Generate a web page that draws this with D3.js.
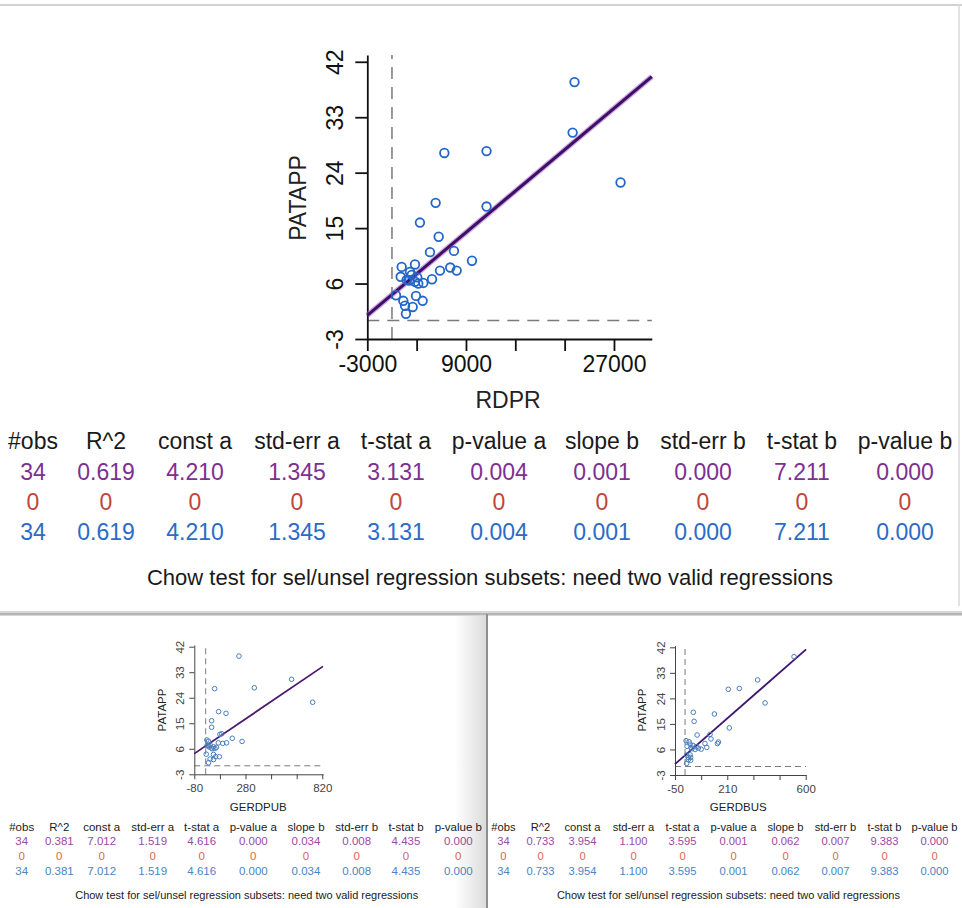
<!DOCTYPE html>
<html>
<head>
<meta charset="utf-8">
<script src="https://cdn.jsdelivr.net/npm/d3@7"></script>
<style>
    body { margin: 0; background: #fff; }
    svg text { font-family: "Liberation Sans", Arial, Helvetica, sans-serif; }
</style>
</head>
<body>
<div id="chart"></div>
<script>
const patapp = [38.7, 30.5, 27.5, 27.2, 22.4, 19.1, 18.5, 15.9, 13.6, 11.3, 11.1, 9.7, 9.1, 8.7, 8.6, 8.1, 8.1,
    7.9, 7.4, 7.1, 7.0, 6.7, 6.6, 6.5, 6.3, 6.1, 6.0, 4.1, 4.0, 3.2, 3.2, 2.4, 2.2, 1.1];
const rdpr = [22200, 21970, 11500, 6370, 27800, 5310, 11500, 3400, 5680, 7540, 4620, 9730, 2800, 1180, 7090, 7870, 5840,
    2190, 2400, 1060, 3080, 4870, 1780, 2100, 2800, 3810, 3200, 490, 2920, 1380, 3730, 1590, 2520, 1700];
const gerdpub = [234, 604, 342, 63, 752, 91, 143, 42, 42, 113, 100, 187, 8, 20, 256, 147, 89,
    120, 30, 10, 20, 55, 25, 75, 40, 65, 45, 4, 55, 96, 70, 31, 55, 20];
const gerdbus = [542, 361, 270, 215, 398, 41, 146, 45, 220, 124, 60, 129, 5, 20, 166, 99, 161,
    25, 40, 10, 55, 108, 30, 66, 35, 80, 50, 25, 8, 16, 28, 16, 28, 8];

// regression fits [const a, slope b]
const rdprFit = [4.210, 0.00112];
const gerdpubFit = [7.012, 0.034];
const gerdbusFit = [3.954, 0.062];

// ticks
const patappTicks = [-3, 6, 15, 24, 33, 42];
const rdprTicks = [-3000, 3000, 9000, 15000, 21000, 27000];
const rdprLabels = [-3000, 9000, 27000];
const gerdpubTicks = [-80, 100, 280, 460, 640, 820];
const gerdpubLabels = [-80, 280, 820];
const gerdbusTicks = [-50, 80, 210, 340, 470, 600];
const gerdbusLabels = [-50, 210, 600];

// stats tables
const statHeaders = ["#obs", "R^2", "const a", "std-err a", "t-stat a", "p-value a", "slope b", "std-err b", "t-stat b", "p-value b"];
const rdprStats = ["34", "0.619", "4.210", "1.345", "3.131", "0.004", "0.001", "0.000", "7.211", "0.000"];
const gerdpubStats = ["34", "0.381", "7.012", "1.519", "4.616", "0.000", "0.034", "0.008", "4.435", "0.000"];
const gerdbusStats = ["34", "0.733", "3.954", "1.100", "3.595", "0.001", "0.062", "0.007", "9.383", "0.000"];
const unselStats = ["0", "0", "0", "0", "0", "0", "0", "0", "0", "0"];
const chowNote = "Chow test for sel/unsel regression subsets: need two valid regressions";


class RegressionPanel {
    constructor(svg, cfg) {
        this.svg = svg;
        this.cfg = cfg;
        this.initVis();
    }

    initVis() {
        let vis = this;
        let c = vis.cfg;

        vis.g = vis.svg.append("g");

        vis.x = d3.scaleLinear().domain(c.xDomain).range(c.xRange);
        vis.y = d3.scaleLinear().domain(c.yDomain).range(c.yRange);

        // dashed zero lines
        vis.g.append("line")
            .attr("x1", vis.x(0)).attr("x2", vis.x(0))
            .attr("y1", c.yRange[0]).attr("y2", c.yRange[1])
            .attr("stroke", "#7a7a7a").attr("stroke-width", c.dashWidth)
            .attr("stroke-dasharray", c.dash);
        vis.g.append("line")
            .attr("x1", c.xRange[0]).attr("x2", c.xRange[1])
            .attr("y1", vis.y(0)).attr("y2", vis.y(0))
            .attr("stroke", "#7a7a7a").attr("stroke-width", c.dashWidth)
            .attr("stroke-dasharray", c.dash);

        // axes
        vis.xAxis = d3.axisBottom(vis.x)
            .tickValues(c.xTicks)
            .tickSize(c.tickSize)
            .tickSizeOuter(0)
            .tickPadding(c.tickPad)
            .tickFormat(d => c.xLabels.includes(d) ? d : "");

        vis.yAxis = d3.axisLeft(vis.y)
            .tickValues(patappTicks)
            .tickSize(c.tickSize)
            .tickSizeOuter(0)
            .tickFormat(d => d);

        let gx = vis.g.append("g")
            .attr("transform", "translate(0," + c.yRange[0] + ")")
            .attr("color", c.axisColor)
            .call(vis.xAxis);
        gx.selectAll("text").attr("font-size", c.tickFont);

        let gy = vis.g.append("g")
            .attr("transform", "translate(" + c.xRange[0] + ",0)")
            .attr("color", c.axisColor)
            .call(vis.yAxis);
        gy.selectAll("text")
            .attr("font-size", c.tickFont)
            .attr("transform", "rotate(-90)")
            .attr("x", 0)
            .attr("y", -c.yLabelGap)
            .attr("dy", 0)
            .attr("text-anchor", "middle");

        gx.selectAll("path, line").attr("stroke-width", c.axisWidth);
        gy.selectAll("path, line").attr("stroke-width", c.axisWidth);

        // axis titles
        vis.g.append("text")
            .attr("x", c.xTitlePos[0]).attr("y", c.xTitlePos[1])
            .attr("text-anchor", "middle")
            .attr("font-size", c.titleFont)
            .attr("fill", "#222")
            .text(c.xTitle);

        vis.g.append("text")
            .attr("transform", "translate(" + c.yTitlePos[0] + "," + c.yTitlePos[1] + ") rotate(-90)")
            .attr("text-anchor", "middle")
            .attr("font-size", c.titleFont)
            .attr("fill", "#222")
            .text("PATAPP");

        vis.updateVis();
    }

    updateVis() {
        let vis = this;
        let c = vis.cfg;

        // regression line
        let x0 = c.xDomain[0], x1 = c.xDomain[1];
        let fit = x => c.fit[0] + c.fit[1] * x;
        if (c.glow) {
            vis.g.append("line")
                .attr("x1", vis.x(x0)).attr("y1", vis.y(fit(x0)))
                .attr("x2", vis.x(x1)).attr("y2", vis.y(fit(x1)))
                .attr("stroke", "#a25bd0").attr("stroke-opacity", 0.55)
                .attr("stroke-width", c.lineWidth + 2.5);
        }
        vis.g.append("line")
            .attr("x1", vis.x(x0)).attr("y1", vis.y(fit(x0)))
            .attr("x2", vis.x(x1)).attr("y2", vis.y(fit(x1)))
            .attr("stroke", c.lineColor)
            .attr("stroke-width", c.lineWidth);

        // points
        vis.g.selectAll(".dot")
            .data(d3.range(patapp.length))
            .enter().append("circle")
            .attr("class", "dot")
            .attr("cx", i => vis.x(c.xs[i]))
            .attr("cy", i => vis.y(patapp[i]))
            .attr("r", c.r)
            .attr("fill", "none")
            .attr("stroke", c.dotColor)
            .attr("stroke-width", c.dotWidth);

        // stats table
        let rows = [
            { vals: statHeaders, color: "#1a1a1a", y: c.tableY[0] },
            { vals: c.stats, color: c.rowColors[0], y: c.tableY[1] },
            { vals: unselStats, color: c.rowColors[1], y: c.tableY[2] },
            { vals: c.stats, color: c.rowColors[2], y: c.tableY[3] }
        ];
        rows.forEach(row => {
            vis.g.selectAll(null)
                .data(row.vals)
                .enter().append("text")
                .attr("x", (d, j) => c.colX[j])
                .attr("y", row.y)
                .attr("text-anchor", "middle")
                .attr("font-size", c.tableFont)
                .attr("fill", row.color)
                .text(d => d);
        });

        vis.g.append("text")
            .attr("x", c.chowPos[0]).attr("y", c.chowPos[1])
            .attr("text-anchor", "middle")
            .attr("font-size", c.chowFont)
            .attr("fill", "#1a1a1a")
            .text(chowNote);
    }
}

const svg = d3.select("#chart").append("svg")
    .attr("width", 962)
    .attr("height", 908);

svg.append("rect").attr("width", 962).attr("height", 908).attr("fill", "#fff");

// frame pieces of the screenshot
let grad = svg.append("defs").append("linearGradient").attr("id", "shade");
grad.append("stop").attr("offset", "0").attr("stop-color", "#fff");
grad.append("stop").attr("offset", "1").attr("stop-color", "#dcdcdc");
svg.append("rect").attr("x", 455).attr("y", 616).attr("width", 31).attr("height", 292).attr("fill", "url(#shade)");
svg.append("line").attr("x1", 0).attr("x2", 962).attr("y1", 5).attr("y2", 5).attr("stroke", "#d2d2d2").attr("stroke-width", 2);
svg.append("line").attr("x1", 959).attr("x2", 959).attr("y1", 5).attr("y2", 606).attr("stroke", "#d8d8d8").attr("stroke-width", 1.5);
svg.append("rect").attr("x", 0).attr("y", 611).attr("width", 962).attr("height", 5).attr("fill", "#d6d6d6");
svg.append("line").attr("x1", 0).attr("x2", 962).attr("y1", 614).attr("y2", 614).attr("stroke", "#ababab").attr("stroke-width", 1.5);
svg.append("line").attr("x1", 487).attr("x2", 487).attr("y1", 614).attr("y2", 908).attr("stroke", "#8f8f8f").attr("stroke-width", 2);

// main panel
new RegressionPanel(svg, {
    xs: rdpr, fit: rdprFit,
    xDomain: [-3000, 31600], xRange: [367.3, 651.8],
    yDomain: [-3, 43.1], yRange: [339, 55],
    xTicks: rdprTicks, xLabels: rdprLabels,
    tickSize: 12, tickPad: 5, yLabelGap: 24,
    tickFont: 23, titleFont: 23, axisColor: "#111", axisWidth: 1.8,
    dash: "12,8", dashWidth: 1.5,
    xTitle: "RDPR", xTitlePos: [508, 408], yTitlePos: [306, 198],
    lineColor: "#3f0f66", lineWidth: 3, glow: true,
    r: 4.3, dotColor: "#2366c9", dotWidth: 1.8,
    stats: rdprStats, rowColors: ["#7e2f92", "#c2463a", "#2a6cc6"],
    colX: [33, 106, 195, 297, 396, 499, 602, 703, 802, 905],
    tableY: [449, 480, 510, 540], tableFont: 23,
    chowPos: [490, 585], chowFont: 22
});

// lower left panel
new RegressionPanel(svg, {
    xs: gerdpub, fit: gerdpubFit,
    xDomain: [-80, 825], xRange: [194.3, 323],
    yDomain: [-3, 42.6], yRange: [774.3, 645],
    xTicks: gerdpubTicks, xLabels: gerdpubLabels,
    tickSize: 5, tickPad: 5, yLabelGap: 10,
    tickFont: 11.5, titleFont: 11.5, axisColor: "#444", axisWidth: 1,
    dash: "6,4", dashWidth: 1,
    xTitle: "GERDPUB", xTitlePos: [258.3, 811], yTitlePos: [166, 710],
    lineColor: "#4a1a70", lineWidth: 1.8, glow: false,
    r: 2.3, dotColor: "#4a7fbd", dotWidth: 1,
    stats: gerdpubStats, rowColors: ["#9b4aa3", "#d46b4c", "#4a84c2"],
    colX: [21.7, 59.3, 101.7, 152.7, 201.7, 253.3, 306, 356.7, 406, 458.3],
    tableY: [831, 845, 860, 875], tableFont: 11.5,
    chowPos: [246.7, 899], chowFont: 11
});

// lower right panel
new RegressionPanel(svg, {
    xs: gerdbus, fit: gerdbusFit,
    xDomain: [-50, 602], xRange: [675, 806.1],
    yDomain: [-3, 42.6], yRange: [775, 645.6],
    xTicks: gerdbusTicks, xLabels: gerdbusLabels,
    tickSize: 5, tickPad: 5, yLabelGap: 10,
    tickFont: 11.5, titleFont: 11.5, axisColor: "#444", axisWidth: 1,
    dash: "6,4", dashWidth: 1,
    xTitle: "GERDBUS", xTitlePos: [738.3, 811], yTitlePos: [646, 710],
    lineColor: "#3d1470", lineWidth: 1.8, glow: false,
    r: 2.3, dotColor: "#4a7fbd", dotWidth: 1,
    stats: gerdbusStats, rowColors: ["#9b4aa3", "#d46b4c", "#4a84c2"],
    colX: [503.4, 540.5, 582.5, 633.5, 682.5, 733.5, 785.5, 835.5, 884.5, 934.5],
    tableY: [831, 845, 860, 875], tableFont: 11.2,
    chowPos: [728.4, 899], chowFont: 11
});
</script>
</body>
</html>
